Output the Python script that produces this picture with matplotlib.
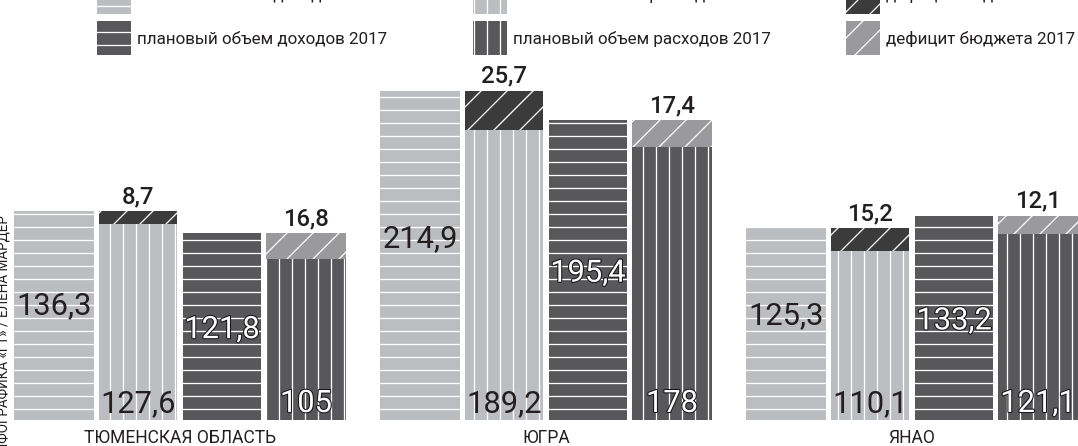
import matplotlib
matplotlib.use("Agg")
import matplotlib.pyplot as plt
import matplotlib.patheffects as pe
from matplotlib.patches import Rectangle

# budget figures, bn rub
regions = ["ТЮМЕНСКАЯ ОБЛАСТЬ", "ЮГРА", "ЯНАО"]
income_2016 = [136.3, 214.9, 125.3]
spend_2016 = [127.6, 189.2, 110.1]
deficit_2016 = [8.7, 25.7, 15.2]
income_2017 = [121.8, 195.4, 133.2]
spend_2017 = [105, 178, 121.1]
deficit_2017 = [16.8, 17.4, 12.1]

legend_labels = [
    ["итоговый объем доходов 2016", "итоговый объем расходов 2016", "дефицит бюджета 2016"],
    ["плановый объем доходов 2017", "плановый объем расходов 2017", "дефицит бюджета 2017"],
]
credit = "ИНФОГРАФИКА «ГТ» / ЕЛЕНА МАРДЕР"

LIGHT = "#bcbdc0"
DARK = "#58585a"
DEF16 = "#3b3b3c"
DEF17 = "#9a9a9c"
INK = "#231f20"

W, H, DPI = 1078, 446, 78
BASE = 420          # baseline, px from top
PXU = 1.533         # px per bn rub
plt.rcParams['font.family'] = ['Roboto', 'DejaVu Sans']
plt.rcParams['hatch.linewidth'] = 1.2


def fmt(v):
    return f"{v:g}".replace(".", ",")


def fig_xy(x, y):
    return x / W, 1 - y / H


fig = plt.figure(figsize=(W / DPI, H / DPI), dpi=DPI)
ax = fig.add_axes([0, 0, 1, 1])
ax.set_xlim(0, W)
ax.set_ylim(-(H - BASE) / PXU, BASE / PXU)
ax.axis('off')

centers = [180 + 366 * i for i in range(len(regions))]
xs = [[c + (j - 1.5) * 84 for c in centers] for j in range(4)]
bw = 80
kw = dict(edgecolor='white', linewidth=0)

ax.bar(xs[0], income_2016, width=bw, color=LIGHT, hatch='-', **kw)
ax.bar(xs[1], spend_2016, width=bw - 2, color=LIGHT, hatch='|', **kw)
ax.bar(xs[1], deficit_2016, bottom=spend_2016, width=bw - 2, color=DEF16, hatch='/', **kw)
ax.bar(xs[2], income_2017, width=bw - 2, color=DARK, hatch='-', **kw)
ax.bar(xs[3], spend_2017, width=bw, color=DARK, hatch='|', **kw)
ax.bar(xs[3], deficit_2017, bottom=spend_2017, width=bw, color=DEF17, hatch='/', **kw)

outline = [pe.withStroke(linewidth=2, foreground="#1a1a1a")]
big = 28.5
for i in range(len(regions)):
    ax.text(xs[0][i], income_2016[i] * 0.56, fmt(income_2016[i]), ha='center',
            va='center_baseline', fontsize=big, color=INK)
    ax.text(xs[2][i], income_2017[i] / 2, fmt(income_2017[i]), ha='center',
            va='center_baseline', fontsize=big, color='white', path_effects=outline)
    ax.annotate(fmt(spend_2016[i]), (xs[1][i], 0), xytext=(0, 7.4), textcoords='offset points',
                ha='center', va='baseline', fontsize=big, color=INK)
    ax.annotate(fmt(spend_2017[i]), (xs[3][i], 0), xytext=(0, 7.4), textcoords='offset points',
                ha='center', va='baseline', fontsize=big, color='white', path_effects=outline)
    ax.annotate(fmt(deficit_2016[i]), (xs[1][i], spend_2016[i] + deficit_2016[i]), xytext=(0, 7.4),
                textcoords='offset points', ha='center', va='baseline', fontsize=22,
                fontweight='medium', color=INK)
    ax.annotate(fmt(deficit_2017[i]), (xs[3][i], spend_2017[i] + deficit_2017[i]), xytext=(0, 7.4),
                textcoords='offset points', ha='center', va='baseline', fontsize=22,
                fontweight='medium', color=INK)
    fig.text(*fig_xy(centers[i], 443), regions[i], ha='center', va='baseline',
             fontsize=16.2, color=INK)

# legend, top row is cut off by the frame
styles = [[(LIGHT, '-'), (LIGHT, '|'), (DEF16, '/')],
          [(DARK, '-'), (DARK, '|'), (DEF17, '/')]]
patch_x = [97, 473, 846]
patch_top = [-20, 21]
text_base = [0, 44]
for r in range(2):
    for c in range(3):
        color, hatch = styles[r][c]
        x0, y0 = fig_xy(patch_x[c], patch_top[r] + 34)
        fig.patches.append(Rectangle((x0, y0), 34 / W, 34 / H, transform=fig.transFigure,
                                     facecolor=color, hatch=hatch, edgecolor='white', linewidth=0))
        fig.text(*fig_xy(patch_x[c] + 40, text_base[r]), legend_labels[r][c], ha='left',
                 va='baseline', fontsize=15.7, color=INK)

fig.text(*fig_xy(4, 215), credit, rotation=90, ha='center', va='top', fontsize=12.5,
         color=INK)

fig.savefig("out.png", dpi=DPI)
